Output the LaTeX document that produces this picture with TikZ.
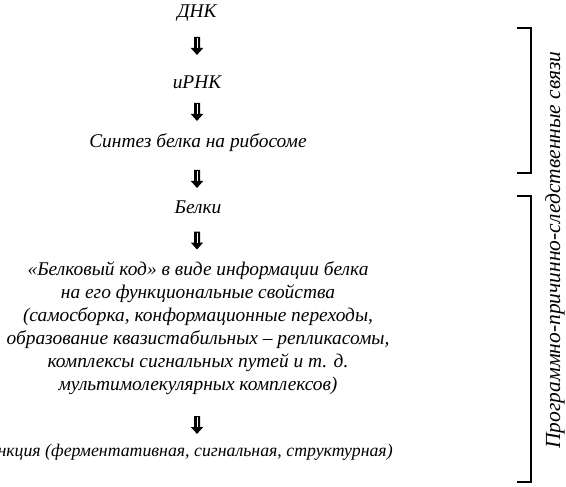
\documentclass[tikz,border=0pt]{standalone}
\usepackage{fontspec}
\setmainfont{Liberation Serif}
\begin{document}
\begin{tikzpicture}[x=1pt,y=-1pt,
  lbl/.style={font=\fontsize{19.4}{23}\selectfont\itshape, inner sep=0pt, align=center},
  darrow/.pic={\fill[black] (-3,-9)--(3,-9)--(3,2)--(6.2,2)--(0,9)--(-6.2,2)--(-3,2)--cycle;
               \draw[white,line width=0.8pt] (0,-8)--(0,2);},
  brk/.style={line width=2.2pt, line cap=butt}
]
\useasboundingbox (0,0) rectangle (566,487);
\begin{scope}
\clip (0,0) rectangle (566,487);
\node[lbl] (dnk) at (197,13) {ДНК};
\node[lbl] (irnk) at (197,82) {иРНК};
\node[lbl] (sint) at (198,143) {Синтез белка на рибосоме};
\node[lbl] (belki) at (198,207) {Белки};
\node[lbl] (code) at (198,328) {«Белковый код» в виде информации белка\\на его функциональные свойства\\(самосборка, конформационные переходы,\\образование квазистабильных – репликасомы,\\комплексы сигнальных путей и т. д.\\мультимолекулярных комплексов)};
\node[lbl, font=\fontsize{17.8}{23}\selectfont\itshape] (func) at (184,452) {Функция (ферментативная, сигнальная, структурная)};
\end{scope}
\coordinate (a1) at (197,46);
\coordinate (a2) at (197,112);
\coordinate (a3) at (197,179);
\coordinate (a4) at (197,240.5);
\coordinate (a5) at (197,425);
\foreach \c in {a1,a2,a3,a4,a5} {\pic at (\c) {darrow};}
\coordinate (b1t) at (517,28);
\coordinate (b1b) at (517,173);
\coordinate (b2t) at (517,196);
\coordinate (b2b) at (517,482);
\draw[brk] (b1t) -| ([xshift=14]b1b) -- (b1b);
\draw[brk] (b2t) -| ([xshift=14]b2b) -- (b2b);
\node[lbl, rotate=90, font=\fontsize{21.5}{23}\selectfont\itshape] (side) at (555,250) {Программно-причинно-следственные связи};
\end{tikzpicture}
\end{document}
